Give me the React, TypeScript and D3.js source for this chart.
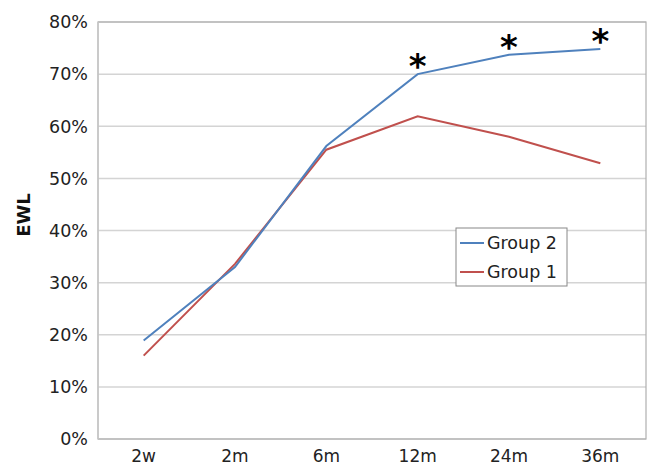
import React, { useEffect, useRef } from 'react'
import * as d3 from 'd3'

const categories = ['2w', '2m', '6m', '12m', '24m', '36m']
const group2 = [18.9, 33.0, 56.2, 70.0, 73.7, 74.8]
const group1 = [16.0, 33.6, 55.5, 61.9, 58.0, 52.9]
const yTicks = [0, 10, 20, 30, 40, 50, 60, 70, 80]
const starred = ['12m', '24m', '36m']

const W = 649
const H = 465
const margin = { top: 22, left: 98, right: 3, bottom: 26 }

export default function App() {
	const ref = useRef<SVGSVGElement>(null)

	useEffect(() => {
		const svg = d3.select(ref.current)
		svg.selectAll('*').remove()

		const width = W - margin.left - margin.right
		const height = H - margin.top - margin.bottom

		const x = d3.scaleBand().domain(categories).range([0, width])
		const y = d3.scaleLinear().domain([0, 80]).range([height, 0])

		const g = svg.append('g').attr('transform', `translate(${margin.left},${margin.top})`)

		// gridlines
		g.selectAll('line.grid')
			.data(yTicks)
			.enter()
			.append('line')
			.attr('x1', 0)
			.attr('x2', width)
			.attr('y1', d => y(d))
			.attr('y2', d => y(d))
			.attr('stroke', '#d4d4d4')
			.attr('stroke-width', 1.5)

		// plot border
		g.append('rect')
			.attr('width', width)
			.attr('height', height)
			.attr('fill', 'none')
			.attr('stroke', '#b0b0b0')
			.attr('stroke-width', 1.2)

		g.append('line')
			.attr('x1', 0).attr('x2', 0).attr('y1', 0).attr('y2', height)
			.attr('stroke', '#c8c8c8').attr('stroke-width', 1.5)

		// y tick labels
		g.selectAll('text.ytick')
			.data(yTicks)
			.enter()
			.append('text')
			.attr('x', -10)
			.attr('y', d => y(d))
			.attr('dy', '0.36em')
			.attr('text-anchor', 'end')
			.attr('font-family', 'DejaVu Sans, sans-serif')
			.attr('font-size', 17.5)
			.attr('fill', '#222')
			.text(d => `${d}%`)

		// x tick labels
		g.selectAll('text.xtick')
			.data(categories)
			.enter()
			.append('text')
			.attr('x', d => (x(d) as number) + x.bandwidth() / 2)
			.attr('y', height + 23)
			.attr('text-anchor', 'middle')
			.attr('font-family', 'DejaVu Sans, sans-serif')
			.attr('font-size', 17)
			.attr('fill', '#222')
			.text(d => d)

		svg.append('text')
			.attr('transform', 'translate(30,215) rotate(-90)')
			.attr('text-anchor', 'middle')
			.attr('font-family', 'DejaVu Sans, sans-serif')
			.attr('font-weight', 'bold')
			.attr('font-size', 18)
			.attr('fill', '#111')
			.text('EWL')

		const line = d3.line<number>()
			.x((d, i) => (x(categories[i]) as number) + x.bandwidth() / 2)
			.y(d => y(d))

		const series = [
			{ name: 'Group 1', values: group1, color: '#c0504d' },
			{ name: 'Group 2', values: group2, color: '#4f81bd' }
		]

		series.forEach(s => {
			g.append('path')
				.datum(s.values)
				.attr('d', line)
				.attr('fill', 'none')
				.attr('stroke', s.color)
				.attr('stroke-width', 2)
		})

		// significance stars
		g.selectAll('text.star')
			.data(starred)
			.enter()
			.append('text')
			.attr('x', d => (x(d) as number) + x.bandwidth() / 2)
			.attr('y', d => y(group2[categories.indexOf(d)]) + 4)
			.attr('text-anchor', 'middle')
			.attr('font-family', 'DejaVu Sans, sans-serif')
			.attr('font-weight', 'bold')
			.attr('font-size', 34)
			.attr('fill', '#000')
			.text('*')

		// legend
		const lg = svg.append('g').attr('transform', 'translate(456,228)')
		lg.append('rect')
			.attr('width', 111)
			.attr('height', 58)
			.attr('fill', '#fff')
			.attr('stroke', '#888')
			.attr('stroke-width', 1)
		const legendItems = [series[1], series[0]]
		legendItems.forEach((s, i) => {
			const cy = 15 + i * 29
			lg.append('line')
				.attr('x1', 4).attr('x2', 28)
				.attr('y1', cy).attr('y2', cy)
				.attr('stroke', s.color).attr('stroke-width', 2)
			lg.append('text')
				.attr('x', 31)
				.attr('y', cy)
				.attr('dy', '0.36em')
				.attr('font-family', 'DejaVu Sans, sans-serif')
				.attr('font-size', 17.5)
				.attr('fill', '#222')
				.text(s.name)
		})
	}, [])

	return <svg ref={ref} width={W} height={H} style={{ display: 'block', position: 'absolute', left: 0, top: 0 }} />
}
